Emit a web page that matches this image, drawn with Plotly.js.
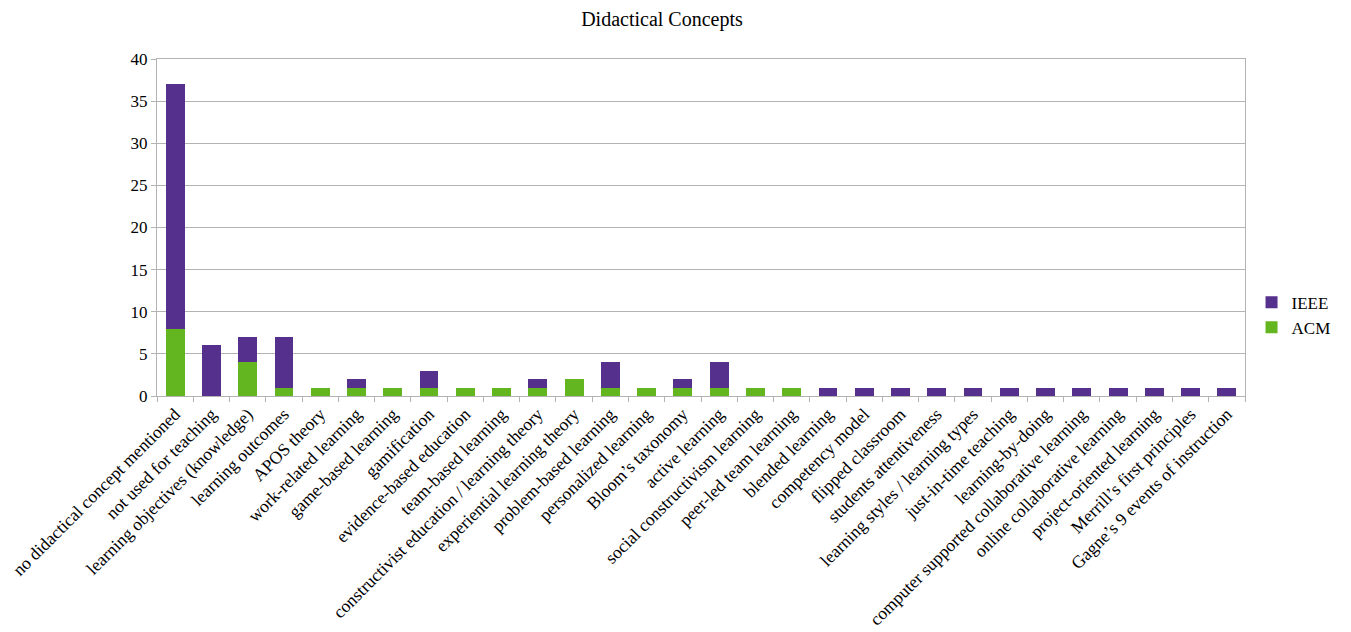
<!DOCTYPE html>
<html>
<head>
<meta charset="utf-8">
<script src="https://cdn.plot.ly/plotly-3.0.1.min.js"></script>
<style>
  html, body { margin: 0; padding: 0; background: #fff; }
  #chart { width: 1351px; height: 632px; }
</style>
</head>
<body>
<div id="chart"></div>
<script>
const categories = [
  "no didactical concept mentioned",
  "not used for teaching",
  "learning objectives (knowledge)",
  "learning outcomes",
  "APOS theory",
  "work-related learning",
  "game-based learning",
  "gamification",
  "evidence-based education",
  "team-based learning",
  "constructivist education / learning theory",
  "experiential learning theory",
  "problem-based learning",
  "personalized learning",
  "Bloom’s taxonomy",
  "active learning",
  "social constructivism learning",
  "peer-led team learning",
  "blended learning",
  "competency model",
  "flipped classroom",
  "students attentiveness",
  "learning styles / learning types",
  "just-in-time teaching",
  "learning-by-doing",
  "computer supported collaborative learning",
  "online collaborative learning",
  "project-oriented learning",
  "Merrill’s first principles",
  "Gagne’s 9 events of instruction"
];

const acm  = [8, 0, 4, 1, 1, 1, 1, 1, 1, 1, 1, 2, 1, 1, 1, 1, 1, 1, 0, 0, 0, 0, 0, 0, 0, 0, 0, 0, 0, 0];
const ieee = [29, 6, 3, 6, 0, 1, 0, 2, 0, 0, 1, 0, 3, 0, 1, 3, 0, 0, 1, 1, 1, 1, 1, 1, 1, 1, 1, 1, 1, 1];

const yTicks = [0, 5, 10, 15, 20, 25, 30, 35, 40];

const font = "Liberation Serif, Times New Roman, serif";

const traces = [
  { type: "bar", name: "ACM", x: categories, y: acm,
    marker: { color: "#63b61f" }, hoverinfo: "x+y+name" },
  { type: "bar", name: "IEEE", x: categories, y: ieee,
    marker: { color: "#55308d" }, hoverinfo: "x+y+name" }
];

const layout = {
  width: 1351, height: 632,
  paper_bgcolor: "#fff", plot_bgcolor: "#fff",
  barmode: "stack", bargap: 0.48,
  font: { family: font, size: 16, color: "#000" },
  title: { text: "Didactical Concepts", font: { family: font, size: 20, color: "#000" },
           x: 0.49, xanchor: "center", y: 0.97, yanchor: "middle" },
  margin: { l: 157, r: 106, t: 59, b: 236 },
  xaxis: {
    type: "category", tickangle: -45,
    showline: true, linecolor: "#b3b3b3", linewidth: 1, mirror: true,
    ticks: "outside", tickson: "boundaries", ticklen: 5, tickcolor: "#b3b3b3",
    tickfont: { family: font, size: 17.6, color: "#000" },
    showgrid: false, automargin: false
  },
  yaxis: {
    range: [0, 40], tickvals: yTicks, ticktext: yTicks.map(String),
    showline: true, linecolor: "#b3b3b3", linewidth: 1, mirror: true,
    ticks: "outside", ticklen: 5, tickcolor: "#b3b3b3",
    gridcolor: "#b3b3b3", gridwidth: 1, zeroline: false,
    tickfont: { family: font, size: 17, color: "#000" }, automargin: false
  },
  legend: {
    x: 1.006, xanchor: "left", y: 0.24, yanchor: "middle",
    traceorder: "reversed", font: { family: font, size: 17, color: "#000" },
    itemwidth: 30, tracegroupgap: 0
  },
  showlegend: true
};

Plotly.newPlot("chart", traces, layout, { displayModeBar: false, staticPlot: true });
</script>
</body>
</html>
